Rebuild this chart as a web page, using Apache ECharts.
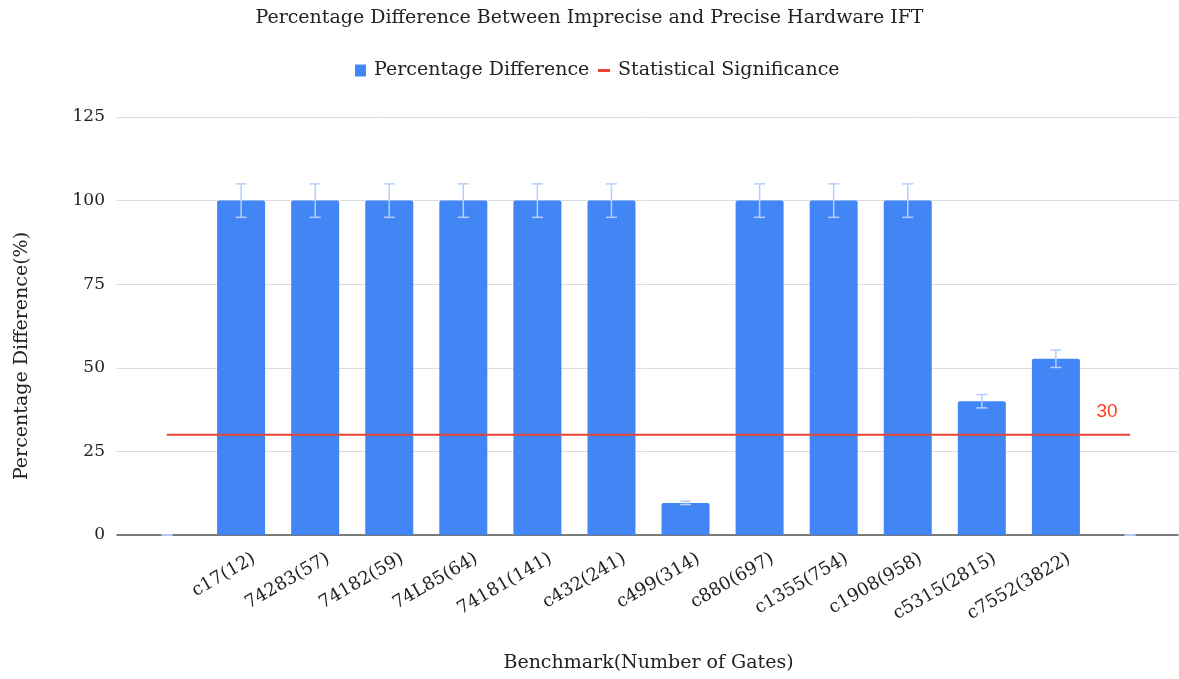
<!DOCTYPE html>
<html>
<head>
<meta charset="utf-8">
<script src="https://cdn.jsdelivr.net/npm/echarts@6/dist/echarts.min.js"></script>
<style>
html,body{margin:0;padding:0;background:#fff;}
#chart{width:1179px;height:679px;}
</style>
</head>
<body>
<div id="chart"></div>
<script>
var categories = [' ', 'c17(12)', '74283(57)', '74182(59)', '74L85(64)', '74181(141)', 'c432(241)', 'c499(314)', 'c880(697)', 'c1355(754)', 'c1908(958)', 'c5315(2815)', 'c7552(3822)', '  '];
var pctDiff = [0, 100, 100, 100, 100, 100, 100, 9.6, 100, 100, 100, 40, 52.7, 0];
var pctErr = [0, 5, 5, 5, 5, 5, 5, 0.5, 5, 5, 5, 2, 2.6, 0];
var significance = [30, 30, 30, 30, 30, 30, 30, 30, 30, 30, 30, 30, 30, 30];
var yTicks = {min: 0, max: 125, interval: 25};

var SERIF = "'DejaVu Serif', 'Liberation Serif', serif";
var chart = echarts.init(document.getElementById('chart'));

var errData = categories.map(function (c, i) { return [i, pctDiff[i], pctErr[i]]; });
var lineData = significance.map(function (v, i) {
  if (i === significance.length - 1) {
    return {value: v, label: {show: true}};
  }
  return v;
});

chart.setOption({
  animation: false,
  title: {
    text: 'Percentage Difference Between Imprecise and Precise Hardware IFT',
    left: 'center', top: 4,
    textStyle: {fontFamily: SERIF, fontSize: 19, fontWeight: 'normal', color: '#222'}
  },
  legend: [{
    data: ['Percentage Difference'],
    left: 350, top: 56,
    icon: 'rect', itemWidth: 11, itemHeight: 12,
    textStyle: {fontFamily: SERIF, fontSize: 19, color: '#222', padding: [0, 0, 0, 3]}
  }, {
    data: ['Statistical Significance'],
    left: 593, top: 56,
    icon: 'rect', itemWidth: 12, itemHeight: 3,
    textStyle: {fontFamily: SERIF, fontSize: 19, color: '#222', padding: [0, 0, 0, 3]}
  }],
  grid: [
    {left: 117, right: 1, top: 117, bottom: 144},
    {left: 130, right: 12, top: 117, bottom: 144}
  ],
  xAxis: [{
    gridIndex: 0, type: 'category', data: categories,
    axisLine: {lineStyle: {color: '#555', width: 1.5}},
    axisTick: {show: false}, axisLabel: {show: false}, splitLine: {show: false}
  }, {
    gridIndex: 1, type: 'category', data: categories, boundaryGap: true,
    axisLine: {show: false}, axisTick: {show: false},
    axisLabel: {rotate: 30, margin: 30, interval: 0, padding: [0, -15, 0, 0], fontFamily: SERIF, fontSize: 18, color: '#222'},
    name: 'Benchmark(Number of Gates)', nameLocation: 'middle', nameGap: 119,
    nameTextStyle: {fontFamily: SERIF, fontSize: 19, color: '#222'}
  }],
  yAxis: [{
    gridIndex: 0, type: 'value', min: yTicks.min, max: yTicks.max, interval: yTicks.interval,
    axisLine: {show: false}, axisTick: {show: false},
    axisLabel: {margin: 12, fontFamily: SERIF, fontSize: 17, color: '#222'},
    splitLine: {lineStyle: {color: '#dcdcdc', width: 1}},
    name: 'Percentage Difference(%)', nameLocation: 'middle', nameGap: 85,
    nameTextStyle: {fontFamily: SERIF, fontSize: 19, color: '#222', padding: [0, 60, 0, 0]}
  }, {
    gridIndex: 1, type: 'value', min: yTicks.min, max: yTicks.max, interval: yTicks.interval,
    show: false, splitLine: {show: false}
  }],
  series: [{
    name: 'Percentage Difference', type: 'bar',
    xAxisIndex: 1, yAxisIndex: 1,
    data: pctDiff, barWidth: 48,
    itemStyle: {color: '#4285f4', borderRadius: [2, 2, 0, 0]},
    z: 2
  }, {
    name: 'errors', type: 'custom',
    xAxisIndex: 1, yAxisIndex: 1,
    data: errData,
    encode: {x: 0, y: 1},
    renderItem: function (params, api) {
      var x = api.value(0), v = api.value(1), e = api.value(2);
      var hi = api.coord([x, v + e]);
      var lo = api.coord([x, v - e]);
      var half = 5.5;
      var style = {stroke: '#b4cffb', lineWidth: 1.5};
      return {
        type: 'group',
        children: [
          {type: 'line', shape: {x1: hi[0], y1: hi[1], x2: lo[0], y2: lo[1]}, style: style},
          {type: 'line', shape: {x1: hi[0] - half, y1: hi[1], x2: hi[0] + half, y2: hi[1]}, style: style},
          {type: 'line', shape: {x1: lo[0] - half, y1: lo[1], x2: lo[0] + half, y2: lo[1]}, style: style}
        ]
      };
    },
    z: 3, silent: true
  }, {
    name: 'Statistical Significance', type: 'line',
    xAxisIndex: 1, yAxisIndex: 1,
    data: lineData,
    showSymbol: true, symbol: 'circle', symbolSize: 1,
    itemStyle: {color: '#ea4335'},
    lineStyle: {color: '#ea4335', width: 2},
    label: {show: false, position: 'top', offset: [-23, -8], fontFamily: "'Liberation Sans', Arial, sans-serif", fontSize: 19, color: '#ff3d1f'},
    z: 4
  }]
});
</script>
</body>
</html>
